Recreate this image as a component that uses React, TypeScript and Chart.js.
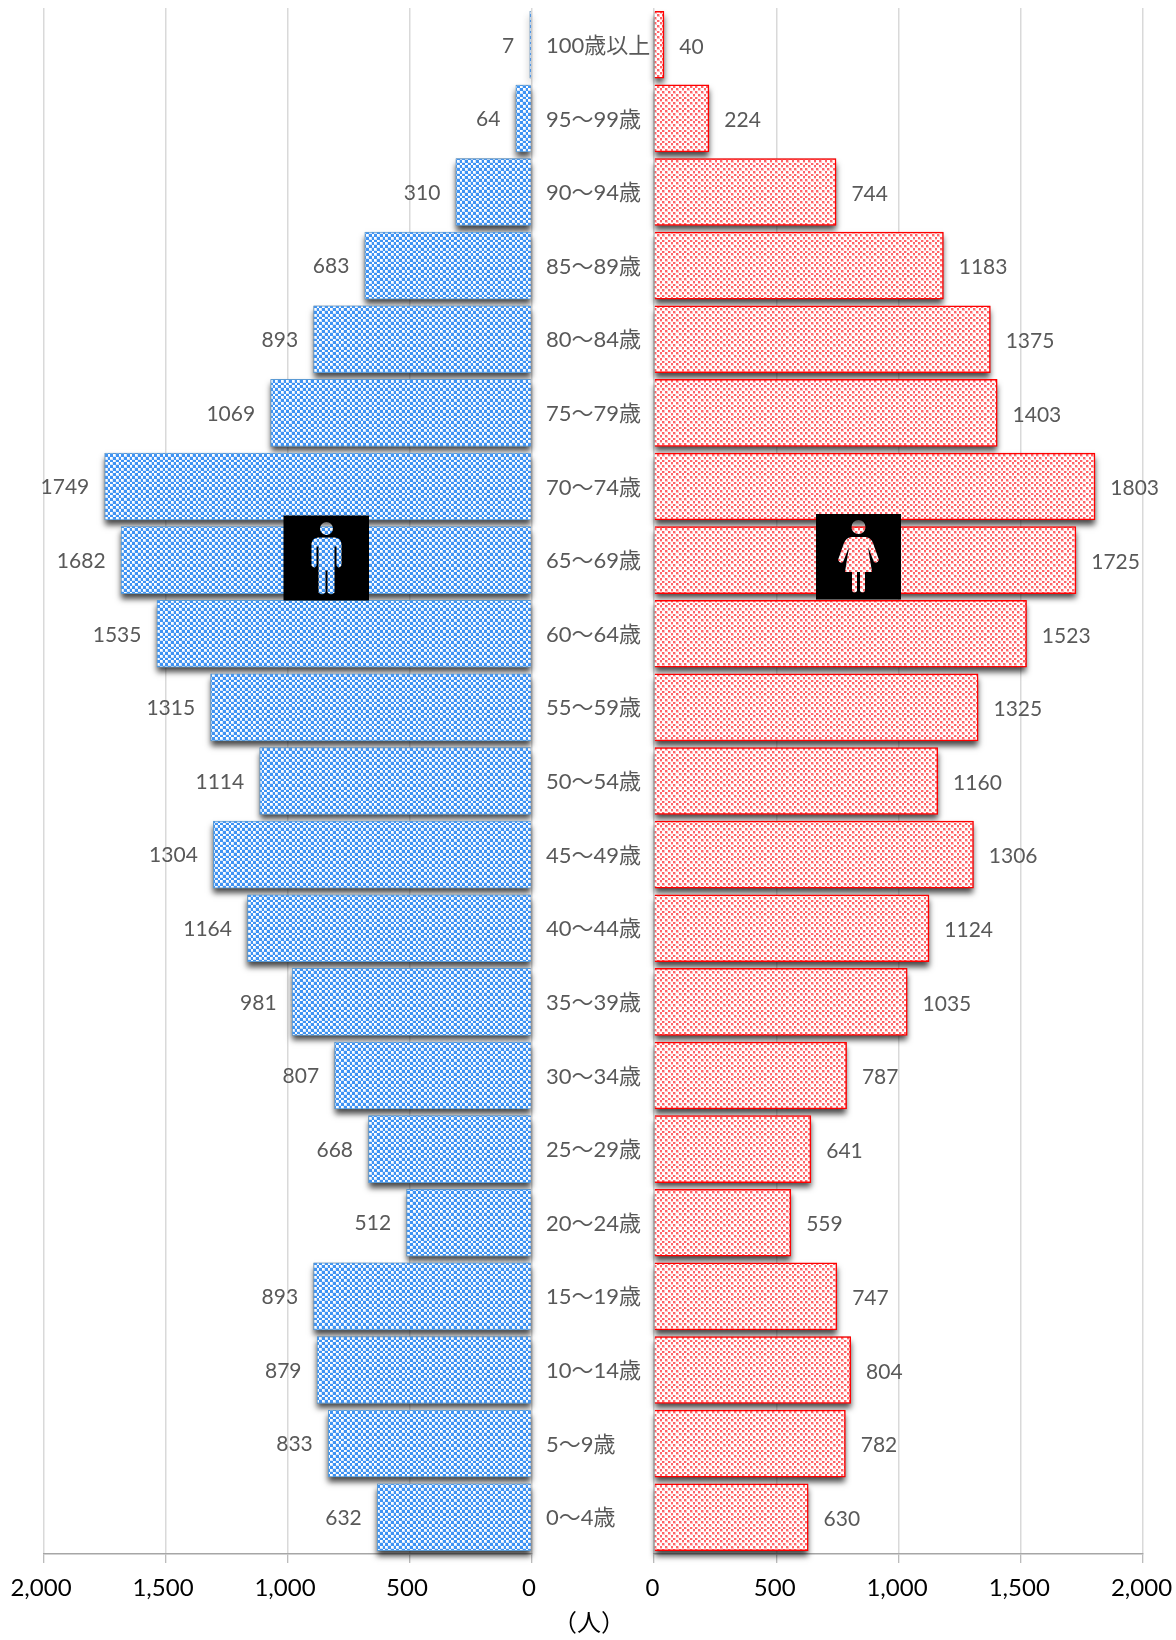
import React, { useEffect, useRef } from "react";
import { Chart, registerables } from "chart.js";

Chart.register(...registerables);

const categories = ["100歳以上", "95～99歳", "90～94歳", "85～89歳", "80～84歳", "75～79歳", "70～74歳", "65～69歳", "60～64歳", "55～59歳", "50～54歳", "45～49歳", "40～44歳", "35～39歳", "30～34歳", "25～29歳", "20～24歳", "15～19歳", "10～14歳", "5～9歳", "0～4歳"];
const maleValues = [7, 64, 310, 683, 893, 1069, 1749, 1682, 1535, 1315, 1114, 1304, 1164, 981, 807, 668, 512, 893, 879, 833, 632];
const femaleValues = [40, 224, 744, 1183, 1375, 1403, 1803, 1725, 1523, 1325, 1160, 1306, 1124, 1035, 787, 641, 559, 747, 804, 782, 630];
const unitLabel = "（人）";

const FONT = "Lato, 'Noto Sans CJK JP', sans-serif";
const TEXT_GREY = "#595959";

function makePattern(pick: (even: boolean, inner: boolean) => string) {
  const size = 11;
  const cell = 2.75;
  const c = document.createElement("canvas");
  c.width = size;
  c.height = size;
  const g = c.getContext("2d")!;
  for (let y = 0; y < size; y++) {
    for (let x = 0; x < size; x++) {
      const cx = Math.floor(x / cell);
      const cy = Math.floor(y / cell);
      const inner = x / cell - cx < 0.7 && y / cell - cy < 0.7;
      g.fillStyle = pick((cx + cy) % 2 === 0, inner);
      g.fillRect(x, y, 1, 1);
    }
  }
  return g.createPattern(c, "repeat")!;
}

function manPath(ox: number, oy: number) {
  const p = new Path2D();
  p.rect(ox, oy, 85.5, 85);
  p.moveTo(ox + 49.5, oy + 13);
  p.arc(ox + 43, oy + 13, 6.5, 0, Math.PI * 2);
  p.closePath();
  p.moveTo(ox + 35, oy + 22);
  p.lineTo(ox + 51, oy + 22);
  p.quadraticCurveTo(ox + 57, oy + 22, ox + 58, oy + 28);
  p.lineTo(ox + 58, oy + 50);
  p.quadraticCurveTo(ox + 55, oy + 54, ox + 53, oy + 50);
  p.lineTo(ox + 53, oy + 31);
  p.lineTo(ox + 51, oy + 31);
  p.lineTo(ox + 51, oy + 77);
  p.quadraticCurveTo(ox + 47.5, oy + 81, ox + 44, oy + 77);
  p.lineTo(ox + 44, oy + 55);
  p.lineTo(ox + 42, oy + 55);
  p.lineTo(ox + 42, oy + 77);
  p.quadraticCurveTo(ox + 38.5, oy + 81, ox + 35, oy + 77);
  p.lineTo(ox + 35, oy + 31);
  p.lineTo(ox + 33, oy + 31);
  p.lineTo(ox + 33, oy + 50);
  p.quadraticCurveTo(ox + 31, oy + 54, ox + 28, oy + 50);
  p.lineTo(ox + 28, oy + 28);
  p.quadraticCurveTo(ox + 29, oy + 22, ox + 35, oy + 22);
  p.closePath();
  return p;
}

function womanPath(ox: number, oy: number) {
  const p = new Path2D();
  p.rect(ox, oy, 85, 85.5);
  p.moveTo(ox + 49.5, oy + 13);
  p.arc(ox + 42.5, oy + 13, 7, 0, Math.PI * 2);
  p.closePath();
  p.moveTo(ox + 35, oy + 23);
  p.lineTo(ox + 50, oy + 23);
  p.quadraticCurveTo(ox + 55, oy + 24, ox + 57, oy + 29);
  p.lineTo(ox + 63, oy + 46);
  p.quadraticCurveTo(ox + 61, oy + 50, ox + 58, oy + 48);
  p.lineTo(ox + 52, oy + 33);
  p.lineTo(ox + 56, oy + 58);
  p.lineTo(ox + 49, oy + 58);
  p.lineTo(ox + 49, oy + 77);
  p.quadraticCurveTo(ox + 46.5, oy + 80, ox + 44, oy + 77);
  p.lineTo(ox + 44, oy + 58);
  p.lineTo(ox + 41, oy + 58);
  p.lineTo(ox + 41, oy + 77);
  p.quadraticCurveTo(ox + 38.5, oy + 80, ox + 36, oy + 77);
  p.lineTo(ox + 36, oy + 58);
  p.lineTo(ox + 29, oy + 58);
  p.lineTo(ox + 33, oy + 33);
  p.lineTo(ox + 27, oy + 48);
  p.quadraticCurveTo(ox + 24, oy + 50, ox + 22, oy + 46);
  p.lineTo(ox + 28, oy + 29);
  p.quadraticCurveTo(ox + 30, oy + 24, ox + 35, oy + 23);
  p.closePath();
  return p;
}

// Soft drop shadow painted under the bars, from the bars' own geometry.
const shadowPlugin = {
  id: "barShadow",
  beforeDatasetsDraw(chart: any) {
    const g = chart.ctx;
    g.save();
    g.shadowColor = "rgba(0,0,0,0.72)";
    g.shadowBlur = 6;
    g.shadowOffsetY = 5;
    g.fillStyle = "#888";
    chart.getDatasetMeta(0).data.forEach((el: any) => {
      const { x, y, base, height } = el.getProps(["x", "y", "base", "height"], true);
      g.fillRect(Math.min(x, base), y - height / 2, Math.abs(x - base), height);
    });
    g.restore();
  },
};

const valueLabels = (side: number, values: number[], dy: number) => ({
  id: "valueLabels",
  afterDatasetsDraw(chart: any) {
    const g = chart.ctx;
    const meta = chart.getDatasetMeta(0);
    g.save();
    g.font = `21px ${FONT}`;
    g.fillStyle = TEXT_GREY;
    g.textBaseline = "middle";
    g.textAlign = side < 0 ? "right" : "left";
    meta.data.forEach((el: any, i: number) => {
      g.fillText(String(values[i]), el.x + side * 15.5, el.y + dy);
    });
    g.restore();
  },
});

const iconPlugin = (make: () => Path2D) => ({
  id: "icon",
  afterDatasetsDraw(chart: any) {
    const g = chart.ctx;
    g.save();
    g.fillStyle = "#000";
    g.fill(make(), "evenodd");
    g.restore();
  },
});

const unitPlugin = {
  id: "unitLabel",
  afterDraw(chart: any) {
    const g = chart.ctx;
    g.save();
    g.font = `24px ${FONT}`;
    g.fillStyle = "#000";
    g.textAlign = "center";
    g.textBaseline = "middle";
    g.fillText(unitLabel, 59, 1623);
    g.restore();
  },
};

function xScale(reverse: boolean, labelOffset: number) {
  return {
    type: "linear",
    position: "bottom",
    reverse,
    min: 0,
    max: 2000,
    afterFit(s: any) {
      s.height = 86;
      s.paddingLeft = 0;
      s.paddingRight = 0;
    },
    grid: { color: "#d9d9d9", lineWidth: 1.5, tickColor: "#a6a6a6", tickLength: 9, tickWidth: 1, z: 0 },
    border: { color: "#a6a6a6", width: 1.5 },
    ticks: {
      stepSize: 500,
      color: "#000",
      padding: 11,
      labelOffset,
      maxRotation: 0,
      font: { family: FONT, size: 24 },
      callback: (v: number) => v.toLocaleString("en-US"),
    },
  };
}

export default function App() {
  const leftRef = useRef<HTMLCanvasElement>(null);
  const rightRef = useRef<HTMLCanvasElement>(null);

  useEffect(() => {
    const blue = makePattern((even, inner) => (even ? (inner ? "#ffffff" : "#cfe4fc") : "#3f93f3"));
    const red = makePattern((even, inner) => (even ? "#ffffff" : inner ? "#ff6468" : "#ffc0c2"));

    const base = {
      animation: false as const,
      responsive: false,
      indexAxis: "y" as const,
      plugins: { legend: { display: false }, tooltip: { enabled: false }, title: { display: false } },
    };

    const left = new Chart(leftRef.current!, {
      type: "bar",
      data: {
        labels: categories,
        datasets: [{
          label: "男性",
          data: maleValues,
          backgroundColor: blue,
          borderColor: "#5b9bd5",
          borderWidth: 1,
          inflateAmount: 0.3,
          barPercentage: 0.91,
          categoryPercentage: 1,
          clip: false,
        }],
      },
      options: {
        ...base,
        layout: { padding: { left: 43.5, right: 28.5, top: 8, bottom: 0 } },
        scales: {
          x: xScale(true, -2.5),
          y: { display: false, grid: { display: false } },
        },
      } as any,
      plugins: [shadowPlugin, valueLabels(-1, maleValues, 1), iconPlugin(() => manPath(283.5, 515.5))],
    } as any);

    const originX = 530;
    const right = new Chart(rightRef.current!, {
      type: "bar",
      data: {
        labels: categories,
        datasets: [{
          label: "女性",
          data: femaleValues,
          backgroundColor: red,
          borderColor: "#ff0000",
          borderWidth: 1.5,
          inflateAmount: 0.5,
          barPercentage: 0.905,
          categoryPercentage: 1,
          clip: false,
        }],
      },
      options: {
        ...base,
        layout: { padding: { left: 16, right: 33, top: 8, bottom: 0 } },
        scales: {
          x: xScale(false, -1.5),
          y: {
            position: "left",
            afterFit(s: any) {
              s.width = 108;
              s.paddingTop = 0;
              s.paddingBottom = 0;
            },
            grid: { display: false },
            border: { display: false },
            ticks: {
              crossAlign: "far",
              color: TEXT_GREY,
              autoSkip: false,
              labelOffset: 1,
              font: { family: FONT, size: 22 },
            },
          },
        },
      } as any,
      plugins: [shadowPlugin, valueLabels(1, femaleValues, 2), iconPlugin(() => womanPath(816 - originX, 514)), unitPlugin],
    } as any);

    return () => {
      left.destroy();
      right.destroy();
    };
  }, []);

  return (
    <div style={{ position: "absolute", left: 0, top: 0, width: 1176, height: 1640, overflow: "hidden", background: "#fff" }}>
      <canvas ref={leftRef} width={560} height={1640} style={{ position: "absolute", left: 0, top: 0 }} />
      <canvas ref={rightRef} width={646} height={1640} style={{ position: "absolute", left: 530, top: 0 }} />
    </div>
  );
}
